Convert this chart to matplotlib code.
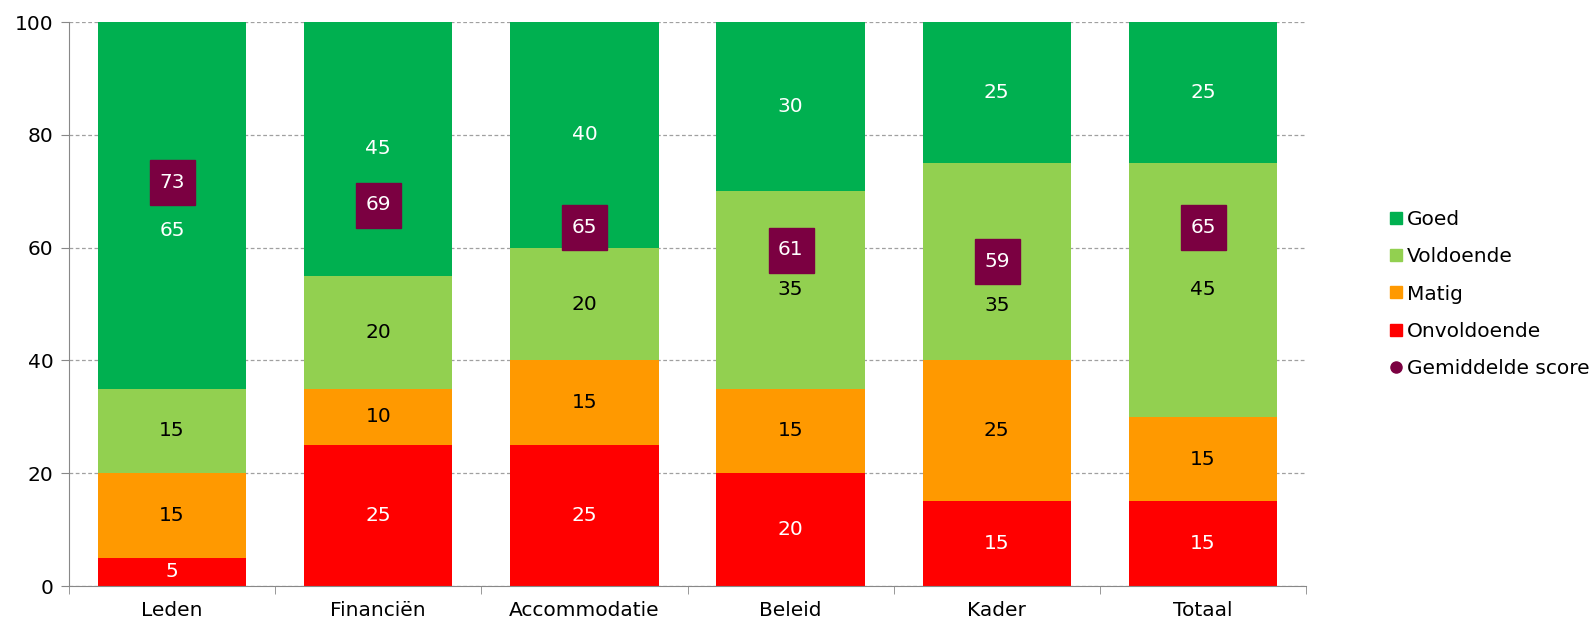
import numpy as np
import matplotlib.pyplot as plt
import matplotlib.transforms as mtransforms
from matplotlib.lines import Line2D

# Data
categories = ['Leden', 'Financiën', 'Accommodatie', 'Beleid', 'Kader', 'Totaal']
onvoldoende = [5, 25, 25, 20, 15, 15]
matig = [15, 10, 15, 15, 25, 15]
voldoende = [15, 20, 20, 35, 35, 45]
goed = [65, 45, 40, 30, 25, 25]
gemiddelde = [73, 69, 65, 61, 59, 65]

series = [
    ('Onvoldoende', onvoldoende, '#FF0000', 'white'),
    ('Matig', matig, '#FF9900', 'black'),
    ('Voldoende', voldoende, '#92D050', 'black'),
    ('Goed', goed, '#00B050', 'white'),
]
score_color = '#7B0041'
fs = 14.5

# label nudges (in data units) where Excel moved labels away from the score box
label_shift = {(0, 'Goed'): -4.5, (4, 'Voldoende'): -7.7}

plt.rcParams['font.family'] = 'DejaVu Sans'
fig = plt.figure(figsize=(15.89, 6.30), dpi=100)
ax = fig.add_axes([69 / 1589, 44 / 630, (1306 - 69) / 1589, (586 - 22) / 630])

x = np.arange(len(categories))
bottom = np.zeros(len(categories))
for name, vals, col, tcol in series:
    vals = np.array(vals, dtype=float)
    ax.bar(x, vals, width=0.72, bottom=bottom, color=col, zorder=2)
    for i, v in enumerate(vals):
        y = bottom[i] + v / 2 + label_shift.get((i, name), 0)
        ax.text(x[i], y, f'{int(v)}', ha='center', va='center',
                color=tcol, fontsize=fs, zorder=3)
    bottom += vals

# score squares, shifted a little below the value like the original
offset = mtransforms.ScaledTranslation(0, -8 / 100, fig.dpi_scale_trans)
for i, s in enumerate(gemiddelde):
    ax.plot(x[i], s, marker='s', markersize=32.4, color=score_color,
            linestyle='none', zorder=4, transform=ax.transData + offset)
    ax.text(x[i], s, str(s), ha='center', va='center', color='white',
            fontsize=fs, zorder=5, transform=ax.transData + offset)

ax.set_xlim(-0.5, len(categories) - 0.5)
ax.set_ylim(0, 100)
ax.set_yticks(np.arange(0, 101, 20))
ax.yaxis.grid(True, linestyle=(0, (3, 2)), color='#A0A0A0', linewidth=0.9, zorder=0)
ax.set_axisbelow(True)

ax.set_xticks(x)
ax.set_xticklabels(categories, fontsize=fs)
ax.tick_params(axis='x', which='major', length=0, pad=11)
ax.set_xticks(np.arange(-0.5, len(categories)), minor=True)
ax.tick_params(axis='x', which='minor', length=6, color='#888888', direction='out')
ax.tick_params(axis='y', labelsize=fs, length=6, color='#888888', pad=5)

for side in ['top', 'right']:
    ax.spines[side].set_visible(False)
for side in ['left', 'bottom']:
    ax.spines[side].set_color('#888888')

handles = [
    Line2D([], [], marker='s', color='#00B050', linestyle='none', markersize=8),
    Line2D([], [], marker='s', color='#92D050', linestyle='none', markersize=8),
    Line2D([], [], marker='s', color='#FF9900', linestyle='none', markersize=8),
    Line2D([], [], marker='s', color='#FF0000', linestyle='none', markersize=8),
    Line2D([], [], marker='o', color=score_color, linestyle='none', markersize=8),
]
labels = ['Goed', 'Voldoende', 'Matig', 'Onvoldoende', 'Gemiddelde score']
fig.legend(handles, labels, loc='center left', bbox_to_anchor=(1380 / 1589, 1 - 294 / 630),
           frameon=False, fontsize=fs, handlelength=0.6, handletextpad=0.25,
           labelspacing=0.9, borderpad=0)

fig.savefig('out.png', dpi=100)
